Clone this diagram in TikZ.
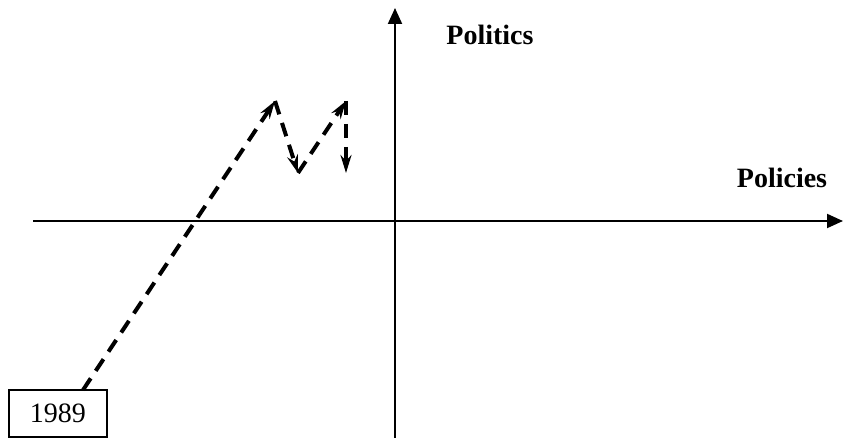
\documentclass[tikz,border=0pt]{standalone}
\usepackage{fontspec}
\setmainfont{Liberation Serif}
\usepackage{tikz}
\usetikzlibrary{positioning, arrows.meta}

\begin{document}
\begin{tikzpicture}[x=0.5pt, y=-0.5pt]

  \tikzset{
    axisline/.style={line width=1pt, -{Triangle[length=8pt, width=7pt]}},
    pathstep/.style={line width=2pt, dash pattern=on 7pt off 4.5pt,
                     -{Stealth[length=9pt, width=5.5pt, inset=3pt]}},
    yearbox/.style={
        shape=rectangle,
        draw=black,
        line width=0.6pt,
        minimum width=49pt,
        minimum height=23.5pt,
        inner sep=0pt,
        font=\fontsize{14}{16}\selectfont
      },
    axislabel/.style={font=\fontsize{14}{16}\selectfont\bfseries}
  }

  \useasboundingbox (0,0) rectangle (843,438);

  % axes
  \coordinate (xl) at (33,221);
  \coordinate (xr) at (843,221);
  \coordinate (yb) at (395,438);
  \coordinate (yt) at (395,8);
  \draw[axisline] (xl) -- (xr);
  \draw[axisline] (yb) -- (yt);

  \node[axislabel] (politics) at (490,35) {Politics};
  \node[axislabel] (policies) at (782,178) {Policies};

  % start year
  \node[yearbox] (yr) at (58,413.5) {1989};

  \coordinate (s) at (83,390);
  \coordinate (p1) at (275,101);
  \coordinate (v1) at (298,173);
  \coordinate (p2) at (346,101);
  \coordinate (e) at (346,173);

  \draw[pathstep] (s) -- (p1);
  \draw[pathstep] (p1) -- (v1);
  \draw[pathstep] (v1) -- (p2);
  \draw[pathstep] (p2) -- (e);

\end{tikzpicture}
\end{document}
